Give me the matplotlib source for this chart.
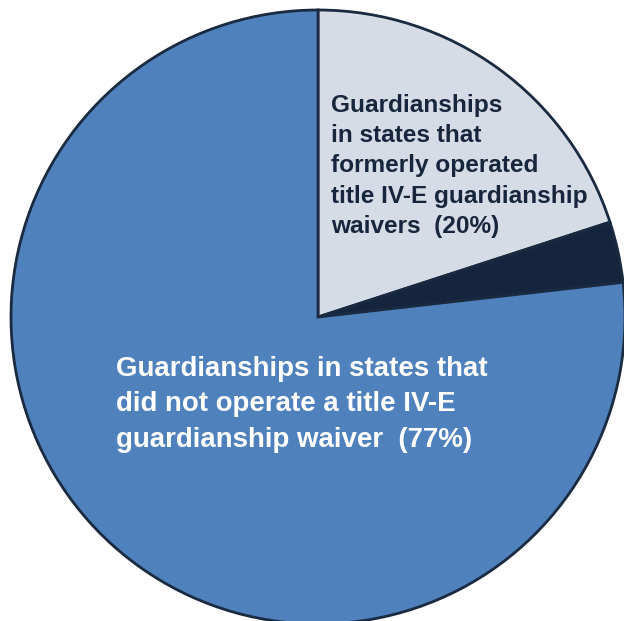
import matplotlib.pyplot as plt

labels = ['Guardianships\nin states that\nformerly operated\ntitle IV-E guardianship\nwaivers  (20%)',
          '',
          'Guardianships in states that\ndid not operate a title IV-E\nguardianship waiver  (77%)']
shares = [20, 3.2, 76.8]
colors = ['#d6dce5', '#14253d', '#4f81bd']

plt.rcParams['font.family'] = ['Liberation Sans', 'DejaVu Sans']

fig = plt.figure(figsize=(6.24, 6.21), dpi=100)
ax = fig.add_axes([0, 0, 1, 1])
ax.pie(shares, colors=colors, startangle=90, counterclock=False,
       center=(318, 304), radius=307,
       wedgeprops={'edgecolor': '#1a2a40', 'linewidth': 2})
ax.set_xlim(0, 624)
ax.set_ylim(0, 621)
ax.set_aspect('equal')
ax.axis('off')

ax.text(331, 621 - 94, labels[0], ha='left', va='top', fontsize=17.6,
        fontweight='bold', color='#17263c', linespacing=1.4)
ax.text(116, 621 - 356, labels[2], ha='left', va='top', fontsize=19.9,
        fontweight='bold', color='white', linespacing=1.47)

fig.savefig('out.png', dpi=100)
